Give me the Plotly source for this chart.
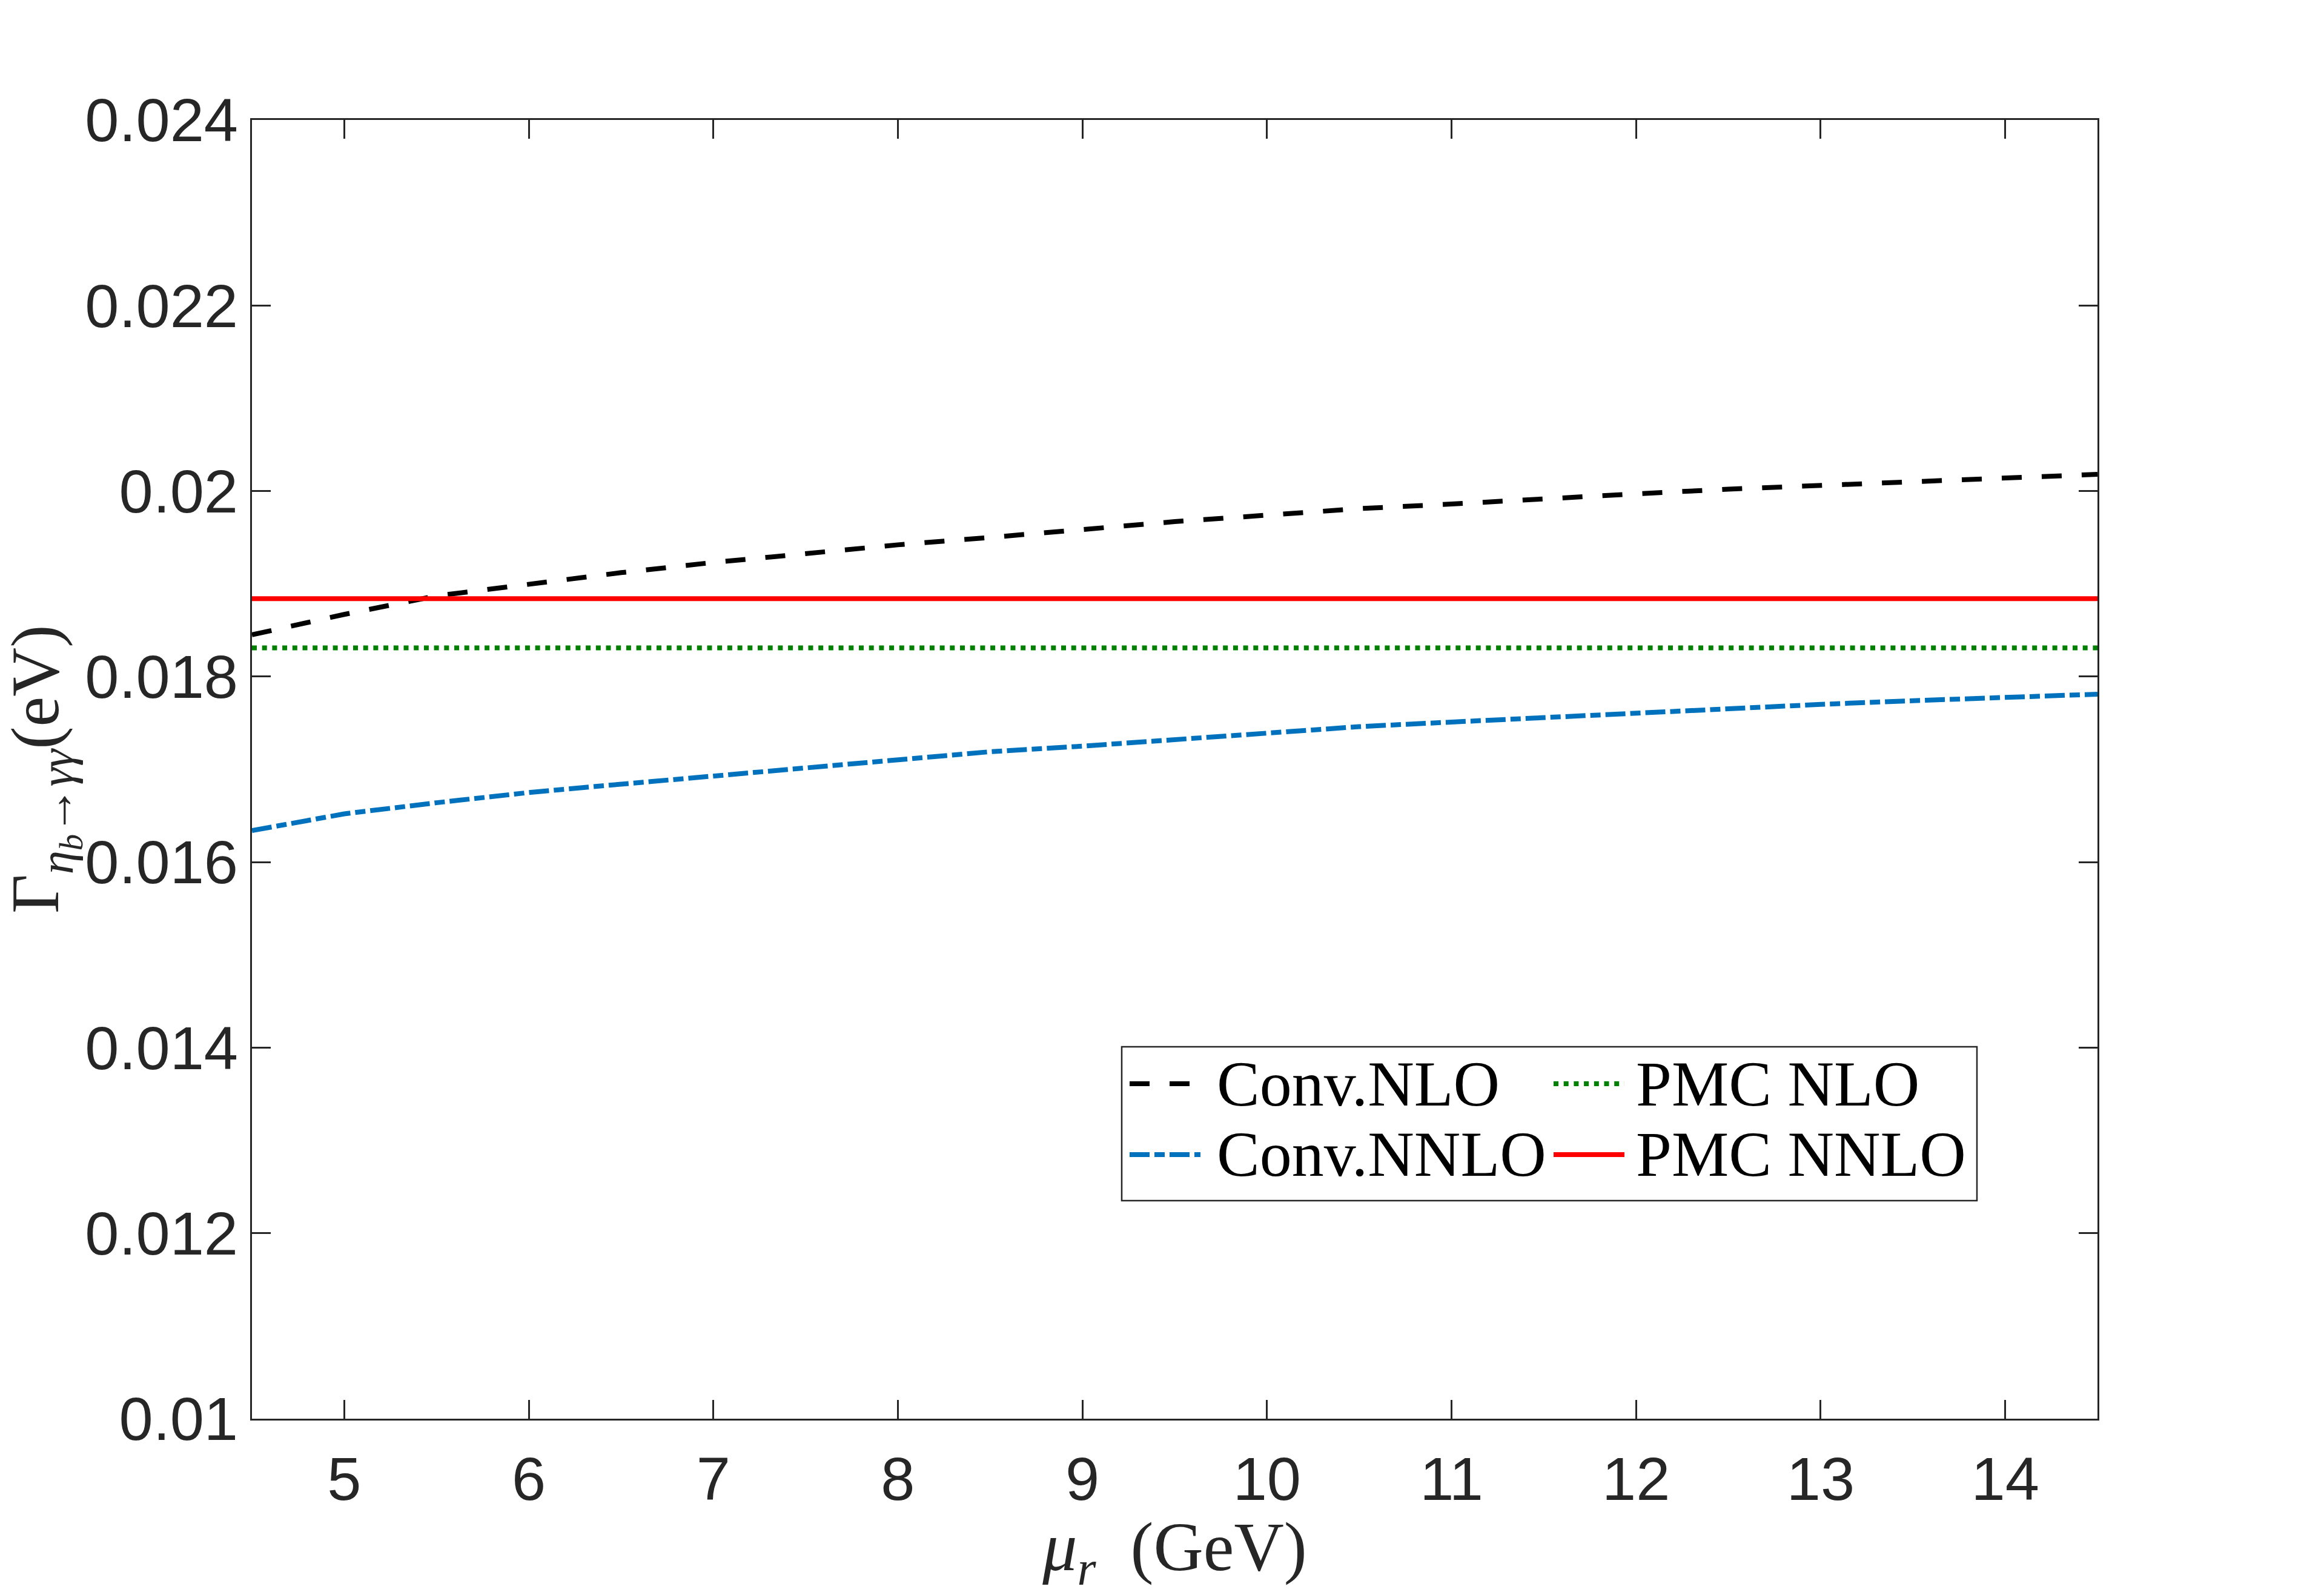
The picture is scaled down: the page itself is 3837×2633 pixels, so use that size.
import plotly.graph_objects as go

# ---- data ----
mu = [4.5, 5.0, 5.5, 6.0, 6.5, 7.0, 7.5, 8.0, 8.5, 9.0, 9.5, 10.0,
      10.5, 11.0, 11.5, 12.0, 12.5, 13.0, 13.5, 14.0, 14.5]
conv_nlo = [0.01845, 0.01867, 0.01887, 0.01900, 0.01912, 0.01923, 0.01933,
            0.01942, 0.01950, 0.01959, 0.01967, 0.01974, 0.01981, 0.01986,
            0.01992, 0.01997, 0.02002, 0.02006, 0.02010, 0.02014, 0.02018]
conv_nnlo = [0.01634, 0.01652, 0.01664, 0.01675, 0.01684, 0.01693, 0.01702,
             0.01711, 0.01719, 0.01725, 0.01732, 0.01739, 0.01746, 0.01751,
             0.01756, 0.01761, 0.01765, 0.01770, 0.01774, 0.01777, 0.01781]
mu_pmc = [4.5, 14.5]
pmc_nlo = [0.01831, 0.01831]
pmc_nnlo = [0.01884, 0.01884]

x_ticks = [5, 6, 7, 8, 9, 10, 11, 12, 13, 14]
y_ticks = [0.010, 0.012, 0.014, 0.016, 0.018, 0.020, 0.022, 0.024]
y_ticktext = ["0.01", "0.012", "0.014", "0.016", "0.018", "0.02", "0.022", "0.024"]

names = ["Conv.NLO", "Conv.NNLO", "PMC NLO", "PMC NNLO"]
colors = ["#000000", "#0072BD", "#008000", "#FF0000"]
dashes = ["33px,33px", "33px,8px,17px,8px", "8px,8.7px", "solid"]

x_title = "<i>μ<sub>r</sub></i>  (GeV)"
y_title = "Γ<sub><i>η</i><sub><i>b</i></sub>→<i>γγ</i></sub>(eV)"

W, H = 3837, 2633
ML, MR, MT, MB = 416, 374, 198, 291
AX = "#262626"
SERIF = "Liberation Serif, Times New Roman, serif"
SANS = "Liberation Sans, Arial, Helvetica, sans-serif"
LW = 8

fig = go.Figure()
series = [(mu, conv_nlo), (mu, conv_nnlo), (mu_pmc, pmc_nlo), (mu_pmc, pmc_nnlo)]
for (xs, ys), nm, c, d in zip(series, names, colors, dashes):
    fig.add_trace(go.Scatter(x=xs, y=ys, mode="lines", name=nm,
                             line=dict(color=c, width=LW, dash=d),
                             showlegend=False))

pw = W - ML - MR
ph = H - MT - MB


def px2x(px):
    return (px - ML) / pw


def py2y(py):
    return (H - MB - py) / ph


# ---- legend (2 columns x 2 rows, column-major like the reference) ----
row_y = [1789, 1906]
col_sample = [(1865, 1982), (2565, 2682)]
col_text = [2007, 2699]
for i, (nm, c, d) in enumerate(zip(names, colors, dashes)):
    col, row = divmod(i, 2)
    yy = py2y(row_y[row])
    fig.add_shape(type="line", xref="paper", yref="paper",
                  x0=px2x(col_sample[col][0]), x1=px2x(col_sample[col][1]),
                  y0=yy, y1=yy, line=dict(color=c, width=LW, dash=d))
    fig.add_annotation(xref="paper", yref="paper", x=px2x(col_text[col]), y=yy,
                       xanchor="left", yanchor="middle", showarrow=False,
                       text=nm, font=dict(family=SERIF, size=106, color="#000000"))

fig.add_shape(type="rect", xref="paper", yref="paper",
              x0=px2x(1852), x1=px2x(3264), y0=py2y(1982), y1=py2y(1728),
              line=dict(color=AX, width=2.5), fillcolor="rgba(0,0,0,0)", layer="below")

# y-axis title (rotated), placed in the left margin
fig.add_annotation(xref="paper", yref="paper", x=px2x(72), y=py2y(1270),
                   xanchor="center", yanchor="middle", showarrow=False,
                   textangle=-90, text=y_title,
                   font=dict(family=SERIF, size=112, color=AX))

axis_common = dict(
    showline=True, linecolor=AX, linewidth=2.5, mirror="ticks",
    ticks="inside", ticklen=31, tickwidth=2.5, tickcolor=AX,
    showgrid=False, zeroline=False,
    tickfont=dict(family=SANS, size=101, color=AX),
)

fig.update_xaxes(range=[4.5, 14.5], tickvals=x_ticks, ticklabelstandoff=10,
                 title=dict(text=x_title,
                            font=dict(family=SERIF, size=114, color=AX), standoff=10),
                 **axis_common)
fig.update_yaxes(range=[0.010, 0.024], tickvals=y_ticks, ticktext=y_ticktext,
                 **axis_common)

fig.update_layout(
    width=W, height=H,
    margin=dict(l=ML, r=MR, t=MT, b=MB, autoexpand=False),
    paper_bgcolor="white", plot_bgcolor="white",
    showlegend=False,
)

fig.write_html("out.html")
